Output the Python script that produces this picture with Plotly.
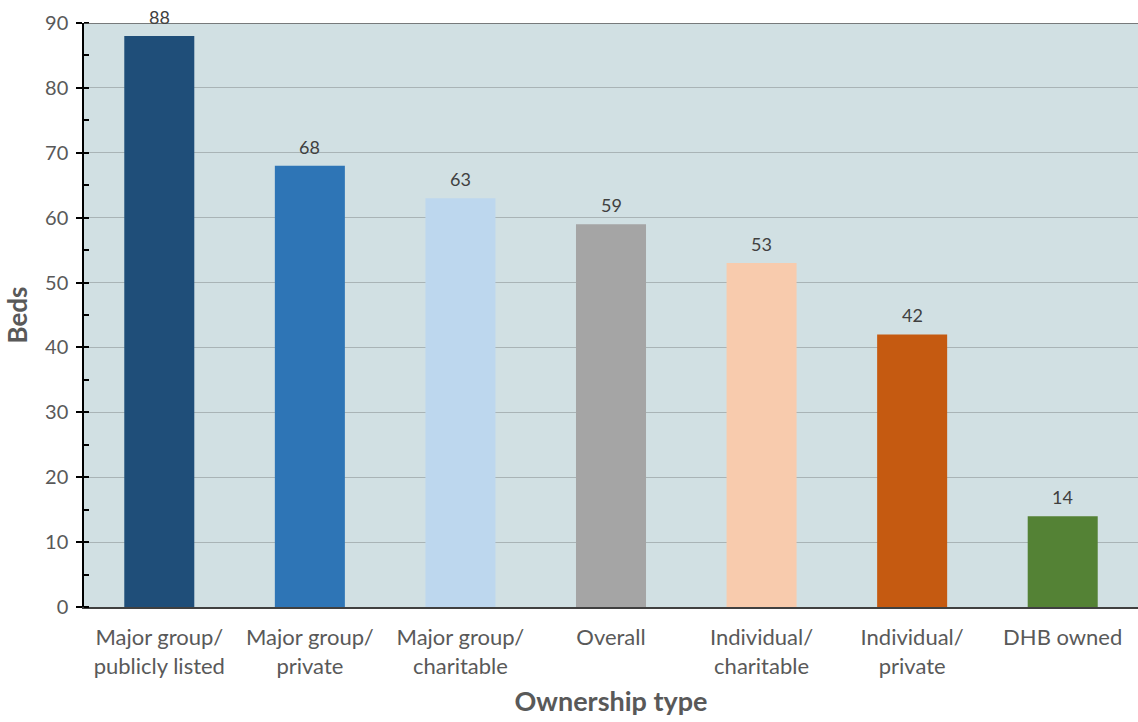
import plotly.graph_objects as go

categories = [
    "Major group/<br>publicly listed",
    "Major group/<br>private",
    "Major group/<br>charitable",
    "Overall",
    "Individual/<br>charitable",
    "Individual/<br>private",
    "DHB owned",
]
beds = [88, 68, 63, 59, 53, 42, 14]
bar_colors = ["#1F4E79", "#2E75B6", "#BDD7EE", "#A5A5A5", "#F8CBAD", "#C55A11", "#548235"]

FONT = "Lato, 'Open Sans', sans-serif"

fig = go.Figure(
    go.Bar(
        x=categories,
        y=beds,
        marker=dict(color=bar_colors, line=dict(width=0)),
        hoverinfo="x+y",
    )
)

# value labels above each bar
for cat, val in zip(categories, beds):
    fig.add_annotation(
        x=cat, y=val, xref="x", yref="y",
        text=str(val), showarrow=False,
        yanchor="bottom", yshift=6,
        font=dict(family=FONT, size=18, color="#404040"),
    )

# dark top border of the plot area
fig.add_shape(type="line", xref="paper", yref="y", x0=0, x1=1, y0=90, y1=90,
              line=dict(color="#595959", width=1.5))

fig.update_layout(
    width=1138, height=722,
    margin=dict(l=84, r=0, t=23, b=115),
    paper_bgcolor="white",
    plot_bgcolor="#D1E0E3",
    bargap=0.535,
    showlegend=False,
    font=dict(family=FONT, color="#595959"),
    xaxis=dict(
        showline=True, linecolor="#404040", linewidth=2,
        ticks="", tickfont=dict(family=FONT, size=22, color="#595959"),
        ticklabelstandoff=10,
        title=dict(text="<b>Ownership type</b>", font=dict(family=FONT, size=27, color="#595959"),
                   standoff=14),
        showgrid=False,
    ),
    yaxis=dict(
        range=[0, 90], dtick=10, tick0=0,
        showline=True, linecolor="black", linewidth=1.5,
        ticks="outside", ticklen=6, tickcolor="black", tickwidth=1.5,
        tickfont=dict(family=FONT, size=20, color="#595959"),
        ticklabelstandoff=4,
        showgrid=True, gridcolor="#A9B4B6", gridwidth=1,
        zeroline=False,
        minor=dict(ticks="inside", ticklen=5, dtick=5, tick0=0, tickcolor="black",
                   tickwidth=1.5, showgrid=False),
        title=dict(text="<b>Beds</b>", font=dict(family=FONT, size=26, color="#595959"),
                   standoff=10),
    ),
)

fig.write_html("out.html")
